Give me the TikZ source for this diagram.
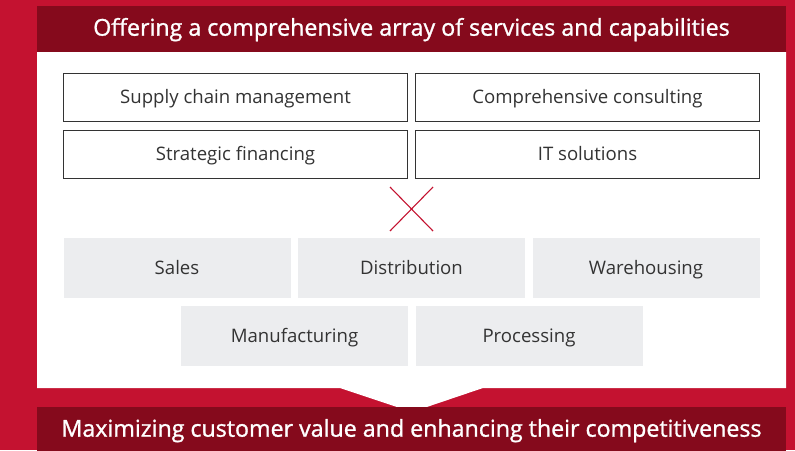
\documentclass[tikz,border=0pt]{standalone}
\usepackage{fontspec}
\setmainfont{Open Sans}
\newfontfamily\barfont[FakeBold=1.2]{Open Sans}
\definecolor{mainred}{HTML}{C41230}
\definecolor{darkred}{HTML}{850A1C}
\definecolor{boxgray}{HTML}{ECEDEF}
\definecolor{textgray}{HTML}{333333}

\begin{document}
\begin{tikzpicture}[x=1pt,y=-1pt,
bar node/.style={fill=darkred,text=white,minimum width=749pt,inner sep=0pt,text height=2.8ex,text depth=0.3ex,font=\barfont\fontsize{23.2}{27}\selectfont},
service node/.style={draw=textgray,line width=0.9pt,fill=white,text=textgray,minimum width=344pt,minimum height=48pt,inner sep=0pt,text height=2.7ex,text depth=0.3ex,font=\fontsize{18.6}{22}\selectfont},
field node/.style={fill=boxgray,text=textgray,minimum width=227pt,minimum height=60pt,inner sep=0pt,text height=2.7ex,text depth=0.3ex,font=\fontsize{18.6}{22}\selectfont}]
\useasboundingbox (0,0) rectangle (795,450);
\fill[mainred] (0,0) rectangle (795,450);
% white panel with notch
\fill[white] (37,52) -- (786,52) -- (786,388) -- (483,388) -- (412,412) -- (340,388) -- (37,388) -- cycle;
\node[bar node,minimum height=46pt] (top) at (411.5,29) {Offering a comprehensive array of services and capabilities};
\node[bar node,minimum height=46pt] (bottom) at (411.5,430) {Maximizing customer value and enhancing their competitiveness};
% services
\node[service node] (scm) at (235.5,97.5) {Supply chain management};
\node[service node] (consult) at (587.5,97.5) {Comprehensive consulting};
\node[service node] (finance) at (235.5,154.5) {Strategic financing};
\node[service node] (it) at (587.5,154.5) {IT solutions};
% cross
\coordinate (x1) at (390,187);
\coordinate (x2) at (433,231);
\coordinate (x3) at (433,187);
\coordinate (x4) at (390,231);
\draw[mainred,line width=1.1pt] (x1) -- (x2);
\draw[mainred,line width=1.1pt] (x3) -- (x4);
% fields
\node[field node] (sales) at (177,268) {Sales};
\node[field node] (distrib) at (411.5,268) {Distribution};
\node[field node] (storage) at (646,268) {Warehousing};
\node[field node] (making) at (294.5,336) {Manufacturing};
\node[field node] (process) at (529,336) {Processing};
\end{tikzpicture}
\end{document}
